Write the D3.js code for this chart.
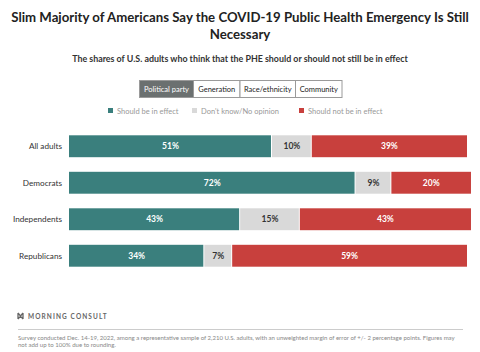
<!DOCTYPE html>
<html>
<head>
<meta charset="utf-8">
<script src="https://cdn.jsdelivr.net/npm/d3@7"></script>
<style>
  body { margin: 0; background: #fff; font-family: Lato, "Noto Sans", sans-serif; }
  svg text { font-family: Lato, "Noto Sans", sans-serif; }
</style>
</head>
<body>
<svg id="chart" width="480" height="352"></svg>
<script>
// 数据
const groups = ['All adults', 'Democrats', 'Independents', 'Republicans'];
const seriesNames = ['Should be in effect', "Don't know/No opinion", 'Should not be in effect'];
const shouldBe = [51, 72, 43, 34];
const dontKnow = [10, 9, 15, 7];
const shouldNot = [39, 20, 43, 59];
const tabs = ['Political party', 'Generation', 'Race/ethnicity', 'Community'];
const colors = ['#3a7f7d', '#d9d9d9', '#c8403d'];

const svg = d3.select('#chart');
const W = 480;

// 按目标宽度调整字号
function fitWidth(sel, target) {
  const w = sel.node().getComputedTextLength();
  const fs = parseFloat(sel.style('font-size'));
  sel.style('font-size', (fs * target / w).toFixed(2) + 'px');
  return sel;
}

// 标题
const t1 = svg.append('text').attr('x', W / 2).attr('y', 22).attr('text-anchor', 'middle')
  .style('font-size', '15px').style('font-weight', 700).attr('fill', '#222')
  .text('Slim Majority of Americans Say the COVID-19 Public Health Emergency Is Still');
fitWidth(t1, 458);
svg.append('text').attr('x', W / 2).attr('y', 39).attr('text-anchor', 'middle')
  .style('font-size', t1.style('font-size')).style('font-weight', 700).attr('fill', '#222')
  .text('Necessary');
const sub = svg.append('text').attr('x', W / 2).attr('y', 62).attr('text-anchor', 'middle')
  .style('font-size', '9.5px').style('font-weight', 700).attr('fill', '#333')
  .text('The shares of U.S. adults who think that the PHE should or should not still be in effect');
fitWidth(sub, 336);

// 选项卡
const tabEdges = [139.5, 193.5, 240, 295.5, 342];
const tabG = svg.append('g');
tabs.forEach((t, i) => {
  const x0 = tabEdges[i], x1 = tabEdges[i + 1];
  tabG.append('rect').attr('x', x0).attr('y', 80.5).attr('width', x1 - x0).attr('height', 17)
    .attr('fill', i === 0 ? '#6b7070' : '#fff').attr('stroke', '#9a9a9a').attr('stroke-width', 1);
  tabG.append('text').attr('x', (x0 + x1) / 2).attr('y', 92).attr('text-anchor', 'middle')
    .style('font-size', '7.5px').attr('fill', i === 0 ? '#fff' : '#222').text(t);
});

// 图例
const legendX = [108, 192, 299];
seriesNames.forEach((s, i) => {
  svg.append('rect').attr('x', legendX[i]).attr('y', 108).attr('width', 5).attr('height', 5).attr('fill', colors[i]);
  svg.append('text').attr('x', legendX[i] + 9).attr('y', 113.5)
    .style('font-size', '7.5px').attr('fill', '#999').text(s);
});

// 堆叠条形图
const rows = groups.map((g, i) => ({ group: g, v: [shouldBe[i], dontKnow[i], shouldNot[i]] }));
const x = d3.scaleLinear().domain([0, 100]).range([69, 467]);
const y = d3.scaleBand().domain(groups).range([128, 274]).paddingInner(0.4).paddingOuter(0.2);

const g = svg.append('g');
rows.forEach(r => {
  let acc = 0;
  r.v.forEach((v, j) => {
    const x0 = x(acc), x1 = x(acc + v);
    acc += v;
    g.append('rect').attr('x', x0).attr('y', y(r.group)).attr('width', Math.max(0, x1 - x0 - (j < 2 ? 1 : 0)))
      .attr('height', y.bandwidth()).attr('fill', colors[j]);
    g.append('text').attr('x', (x0 + x1) / 2).attr('y', y(r.group) + y.bandwidth() / 2 + 3)
      .attr('text-anchor', 'middle').style('font-size', '8.5px').style('font-weight', 700)
      .attr('fill', j === 1 ? '#333' : '#fff').text(v + '%');
  });
  g.append('text').attr('x', 62).attr('y', y(r.group) + y.bandwidth() / 2 + 3)
    .attr('text-anchor', 'end').style('font-size', '8.2px').attr('fill', '#333').text(r.group);
});

// 页脚
const logo = svg.append('g').attr('transform', 'translate(18,316)');
logo.append('path').attr('d', 'M0,-3 L2.5,0 L5,-3 M0,3 L2.5,0 L5,3 M0,-3 L0,3 M5,-3 L5,3')
  .attr('stroke', '#666').attr('stroke-width', 1.3).attr('fill', 'none');
svg.append('text').attr('x', 28).attr('y', 318.5).style('font-size', '6.5px').style('font-weight', 700)
  .style('letter-spacing', '1.1px').attr('fill', '#666').text('MORNING CONSULT');
svg.append('line').attr('x1', 18).attr('x2', 463).attr('y1', 329.5).attr('y2', 329.5)
  .attr('stroke', '#ccc').attr('stroke-width', 1);
const fn = svg.append('text').attr('x', 18).attr('y', 339.5).style('font-size', '6.2px').attr('fill', '#888')
  .text('Survey conducted Dec. 14-19, 2022, among a representative sample of 2,210 U.S. adults, with an unweighted margin of error of +/- 2 percentage points. Figures may');
fitWidth(fn, 437);
svg.append('text').attr('x', 18).attr('y', 347).style('font-size', fn.style('font-size')).attr('fill', '#888')
  .text('not add up to 100% due to rounding.');
</script>
</body>
</html>
